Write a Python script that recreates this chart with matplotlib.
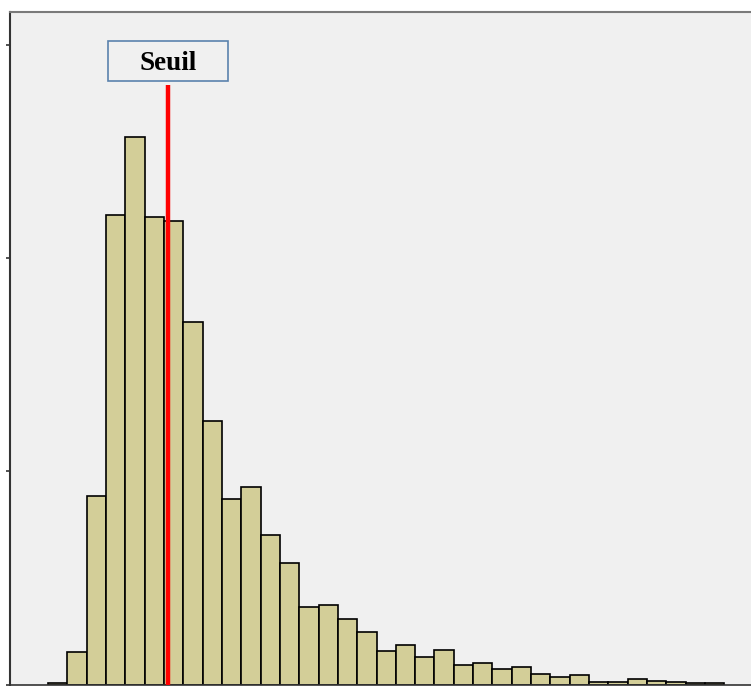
import matplotlib.pyplot as plt
import numpy as np
from matplotlib.patches import Rectangle

# Histogram counts per bin (y ticks every 1000)
counts = [5, 153, 885, 2204, 2570, 2195, 2176, 1702, 1237, 871,
          927, 702, 570, 364, 373, 308, 246, 157, 185, 129,
          162, 92, 101, 73, 82, 49, 35, 45, 12, 12,
          26, 16, 12, 7, 7]
bin_edges = np.arange(len(counts) + 1)
threshold = 6.22
label = "Seuil"
y_ticks = [0, 1000, 2000, 3000]

fig = plt.figure(figsize=(7.51, 6.86), dpi=100)
W, H = 751, 686

# axes placed in pixel terms: left spine x=10, top y=12, bottom y=684.5
ax = fig.add_axes([10 / W, 1.5 / H, 1 - 10 / W + 0.002, (684.5 - 12) / H])
ax.set_facecolor("#f0f0f0")

ax.bar(bin_edges[:-1], counts, width=1.0, align="edge",
       color="#d3ce98", edgecolor="black", linewidth=1.2, zorder=2)

# threshold line
ax.vlines(threshold, 0, 2815, color="red", linewidth=3.2, zorder=3)

ax.set_xlim(-1.97, 36.46)
ax.set_ylim(0, 3157)
ax.set_yticks(y_ticks)
ax.set_yticklabels([])
ax.set_xticks([])
ax.tick_params(axis="y", direction="out", length=3, width=1.2, color="#333333")

ax.spines["left"].set_color("#333333")
ax.spines["left"].set_linewidth(1.5)
ax.spines["top"].set_color("#7a7a7a")
ax.spines["top"].set_linewidth(1.5)
ax.spines["bottom"].set_color("#333333")
ax.spines["bottom"].set_linewidth(1.2)
ax.spines["right"].set_visible(False)

# label box above the line
box = Rectangle((108 / W, 1 - 81 / H), 120 / W, 40 / H, transform=fig.transFigure,
                facecolor="#f0f0f0", edgecolor="#5a82ad", linewidth=1.2, zorder=5)
fig.patches.append(box)
fig.text(168 / W, 1 - 64 / H, label, ha="center", va="center",
         fontsize=19.5, fontweight="bold", family="Liberation Serif", zorder=6)

fig.savefig("out.png", dpi=100)
